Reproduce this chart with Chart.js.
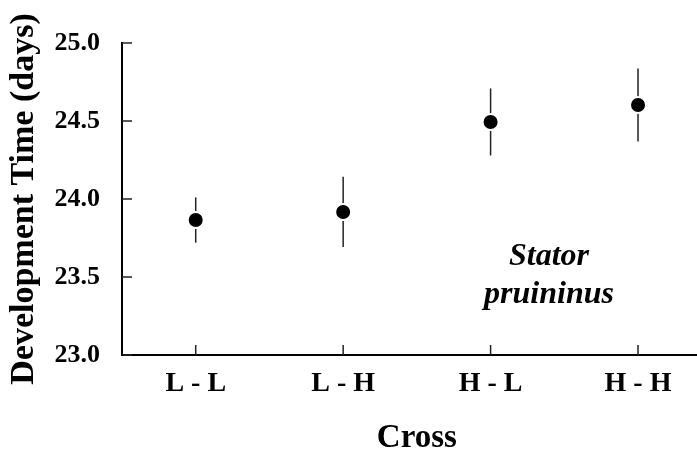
<!DOCTYPE html>
<html>
<head>
<meta charset="utf-8">
<script src="https://cdn.jsdelivr.net/npm/chart.js@4"></script>
<style>
html,body{margin:0;padding:0;background:#fff;}
#wrap{width:697px;height:449px;position:relative;}
</style>
</head>
<body>
<div id="wrap"><canvas id="c" width="697" height="449"></canvas></div>
<script>
const categories = ["L - L", "L - H", "H - L", "H - H"];
const means = [23.865, 23.917, 24.494, 24.603];
const errors = [0.145, 0.225, 0.215, 0.234];
const yTicks = [23.0, 23.5, 24.0, 24.5, 25.0];
const xTitle = "Cross";
const yTitle = "Development Time (days)";
const annotation = ["Stator", "pruininus"];

const SERIF = "'Liberation Serif', 'Times New Roman', serif";

const extras = {
  id: 'extras',
  beforeDatasetsDraw(chart) {
    const ctx = chart.ctx, x = chart.scales.x, y = chart.scales.y;
    ctx.save();
    ctx.strokeStyle = '#222';
    ctx.lineWidth = 1.5;
    means.forEach((m, i) => {
      const px = x.getPixelForValue(i + 1);
      ctx.beginPath();
      ctx.moveTo(px, y.getPixelForValue(m + errors[i]));
      ctx.lineTo(px, y.getPixelForValue(m - errors[i]));
      ctx.stroke();
    });
    ctx.restore();
  },
  afterDraw(chart) {
    const ctx = chart.ctx, x = chart.scales.x, y = chart.scales.y;
    const a = chart.chartArea;
    ctx.save();
    ctx.strokeStyle = '#222';
    ctx.lineWidth = 1.5;
    yTicks.forEach(v => {
      const py = y.getPixelForValue(v);
      ctx.beginPath(); ctx.moveTo(a.left, py); ctx.lineTo(a.left + 10, py); ctx.stroke();
    });
    categories.forEach((c, i) => {
      const px = x.getPixelForValue(i + 1);
      ctx.beginPath(); ctx.moveTo(px, a.bottom); ctx.lineTo(px, a.bottom - 10); ctx.stroke();
    });
    ctx.fillStyle = '#000';
    ctx.textAlign = 'center';
    ctx.textBaseline = 'alphabetic';
    ctx.font = "bold 33px " + SERIF;
    ctx.fillText(xTitle, (x.getPixelForValue(1) + x.getPixelForValue(categories.length)) / 2, 447);
    ctx.font = "italic bold 32px " + SERIF;
    ctx.fillText(annotation[0], 549, 265);
    ctx.fillText(annotation[1], 549, 303);
    ctx.restore();
  }
};

new Chart(document.getElementById('c'), {
  type: 'scatter',
  data: {
    datasets: [{
      data: means.map((m, i) => ({x: i + 1, y: m})),
      backgroundColor: '#000',
      borderColor: '#fff',
      borderWidth: 2,
      pointRadius: 8,
      pointHoverRadius: 8
    }]
  },
  options: {
    responsive: false,
    animation: false,
    events: [],
    layout: {autoPadding: false, padding: {top: 43, right: 0, left: 0, bottom: 0}},
    plugins: {legend: {display: false}, tooltip: {enabled: false}},
    scales: {
      x: {
        type: 'linear',
        min: 0.5,
        max: 4.4,
        afterBuildTicks: s => { s.ticks = categories.map((c, i) => ({value: i + 1})); },
        afterFit: s => { s.height = 94; },
        grid: {display: false, drawTicks: false},
        border: {display: true, color: '#000', width: 2},
        ticks: {
          padding: 12,
          color: '#000',
          font: {family: SERIF, size: 28, weight: 'bold'},
          callback: v => categories[v - 1]
        }
      },
      y: {
        min: 23,
        max: 25,
        afterBuildTicks: s => { s.ticks = yTicks.map(v => ({value: v})); },
        afterFit: s => { s.width = 122; },
        grid: {display: false, drawTicks: false},
        border: {display: true, color: '#000', width: 2},
        ticks: {
          padding: 22,
          color: '#000',
          font: {family: SERIF, size: 26, weight: 'bold'},
          callback: v => Number(v).toFixed(1)
        },
        title: {
          display: true,
          text: yTitle,
          color: '#000',
          padding: {top: 4, bottom: 0},
          font: {family: SERIF, size: 34, weight: 'bold'}
        }
      }
    }
  },
  plugins: [extras]
});
</script>
</body>
</html>
